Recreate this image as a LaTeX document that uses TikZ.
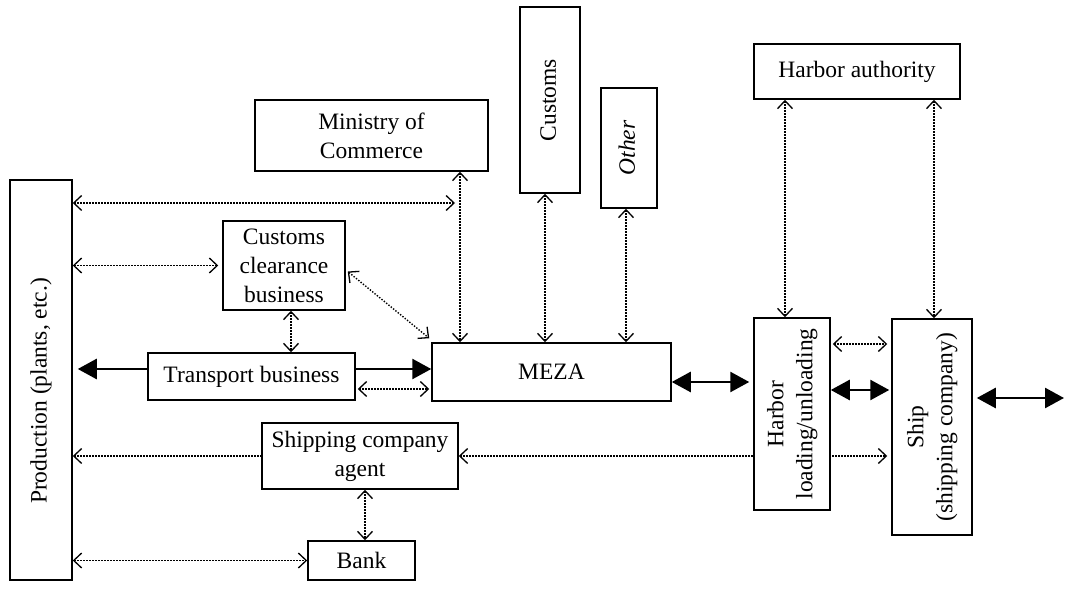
\documentclass[tikz,border=0pt]{standalone}
\usepackage{fontspec}
\setmainfont{Liberation Serif}
\usetikzlibrary{arrows.meta,backgrounds,calc}
\tikzset{
  ob/.tip={Straight Barb[length=8pt,width=15pt,line width=1.3pt]},
  tri/.tip={Triangle[length=19pt,width=20pt]},
  box/.style={draw, line width=1.5pt, inner sep=0pt, align=center,
    font=\fontsize{23.5}{29}\selectfont, fill=white},
  dlink/.style={ob-ob, line width=1.4pt, dash pattern=on 1.4pt off 1.6pt},
  dlinkL/.style={ob-, line width=1.4pt, dash pattern=on 1.4pt off 1.6pt},
  tk/.style={tri-tri, line width=2.6pt},
  tkR/.style={-tri, line width=2.6pt}
}
\newcommand{\rtext}[1]{\rotatebox{90}{\begin{tabular}{@{}c@{}}#1\end{tabular}}}
\begin{document}
\begin{tikzpicture}[x=1pt,y=1pt]
\useasboundingbox (0,0) rectangle (1066,592);
% nodes
\node[box, minimum width=62pt, minimum height=400pt] (prod) at (41,212) {\rotatebox{90}{Production (plants, etc.)\kern22pt}};
\node[box, minimum width=233pt, minimum height=71pt] (mini) at (371.5,456.5) {Ministry of\\Commerce};
\node[box, minimum width=60pt, minimum height=186pt] (cust) at (550,492) {\rtext{Customs}};
\node[box, minimum width=56pt, minimum height=120pt] (other) at (629,444) {\rtext{\textit{Other}}};
\node[box, minimum width=206pt, minimum height=55pt] (ha) at (857,520.5) {Harbor authority};
\node[box, minimum width=122pt, minimum height=89pt] (ccb) at (284,326.5) {Customs\\clearance\\business};
\node[box, minimum width=207pt, minimum height=47pt] (tb) at (251.5,215.5) {Transport business};
\node[box, minimum width=239pt, minimum height=58pt] (meza) at (551.5,220) {MEZA};
\node[box, minimum width=76pt, minimum height=192pt] (hl) at (792,178) {\rtext{Harbor\\loading/unloading}};
\node[box, minimum width=80pt, minimum height=216pt] (ship) at (932,165) {\rtext{Ship\\(shipping company)}};
\node[box, minimum width=196pt, minimum height=66pt] (agent) at (360,136) {Shipping company\\agent};
\node[box, minimum width=107pt, minimum height=39pt] (bank) at (361.5,31.5) {Bank};
% helper coordinates
\coordinate (j1) at (455,389);
\coordinate (vx) at (460,0);
\coordinate (cx) at (291,0);
\coordinate (hx) at (785,0);
\coordinate (sx) at (934,0);
\coordinate (bx) at (365,0);
\coordinate (h1) at (0,248);
\coordinate (h2) at (0,202);
\coordinate (fr) at (1064,194);
\coordinate (t1) at (0,223);
\coordinate (t2) at (0,203);
\coordinate (m1) at (0,210);
% connectors
\draw[dlink] (prod.east|-j1) -- (j1);
\draw[dlink] (vx|-mini.south) -- (vx|-meza.north);
\draw[dlink, shorten >=4pt] (prod.east|-ccb.west) -- (ccb.west);
\draw[dlink] ($(ccb.east)+(2,-6)$) -- ($(meza.north west)+(-2,4)$);
\draw[dlink] (cx|-ccb.south) -- (cx|-tb.north);
\draw[tkR, shorten >=5pt] (tb.west|-t1) -- (prod.east|-t1);
\draw[tkR] (tb.east|-t1) -- (meza.west|-t1);
\draw[dlink, shorten <=2pt, shorten >=2pt] (tb.east|-t2) -- (meza.west|-t2);
\draw[dlink] ($(cust.south)+(-5,0)$) -- ($(meza.north)+(-6.5,0)$);
\draw[dlink] ($(other.south)+(-3,0)$) -- ($(meza.north)+(74.5,0)$);
\draw[tk, shorten >=4pt] (meza.east|-m1) -- (hl.west|-m1);
\draw[dlink] (hx|-ha.south) -- (hx|-hl.north);
\draw[dlink] (sx|-ha.south) -- (sx|-ship.north);
\draw[dlink, shorten <=2pt, shorten >=4pt] (hl.east|-h1) -- (ship.west|-h1);
\draw[tk, shorten >=2pt] (hl.east|-h2) -- (ship.west|-h2);
\draw[tk, shorten <=4pt] (ship.east|-fr) -- (fr);
\begin{pgfonlayer}{background}
\draw[dlink, shorten >=4pt] (agent.east) -- (ship.west|-agent.east);
\end{pgfonlayer}
\draw[dlinkL] (prod.east|-agent.west) -- (agent.west);
\draw[dlink] (prod.east|-bank.west) -- (bank.west);
\draw[dlink] (bx|-agent.south) -- (bx|-bank.north);
\end{tikzpicture}
\end{document}
